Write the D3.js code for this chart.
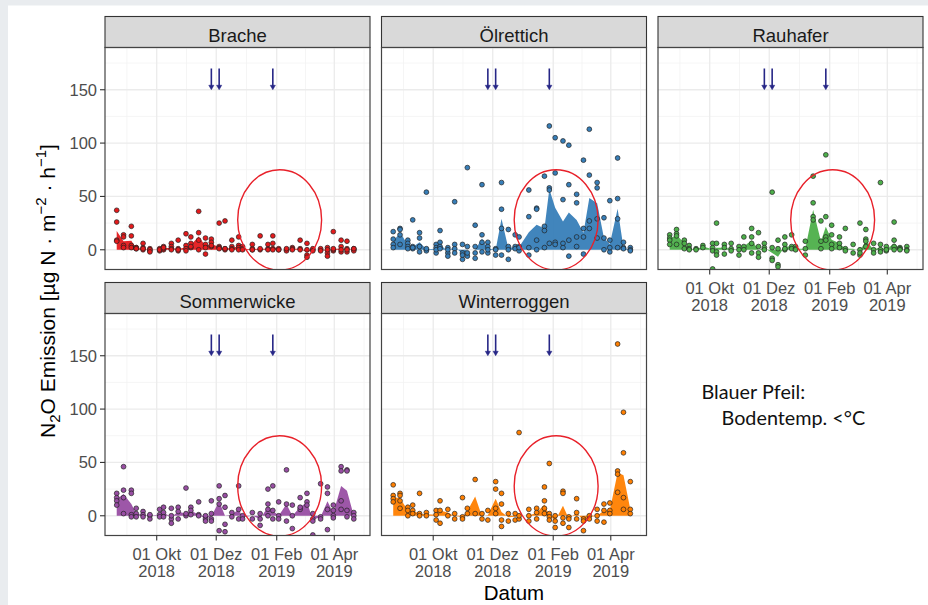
<!DOCTYPE html>
<html>
<head>
<meta charset="utf-8">
<script src="https://cdn.jsdelivr.net/npm/d3@7"></script>
<style>
  html, body { margin: 0; padding: 0; background: #fff; }
  svg { display: block; font-family: Arial, "Liberation Sans", Helvetica, sans-serif; }
  .note { font-family: Lato, "Open Sans", sans-serif; }
</style>
</head>
<body>
<div id="chart"></div>
<script>
// Messtermine (gemeinsam für alle Varianten)
const dates = [
  "2018-08-21","2018-08-28","2018-09-05","2018-09-10","2018-09-17","2018-09-24",
  "2018-10-04","2018-10-08","2018-10-16","2018-10-23","2018-10-31","2018-11-05",
  "2018-11-13","2018-11-20","2018-11-26","2018-12-04","2018-12-10","2018-12-17",
  "2018-12-24","2018-12-28","2019-01-07","2019-01-15","2019-01-23","2019-01-28",
  "2019-02-03","2019-02-11","2019-02-17","2019-02-25","2019-03-04","2019-03-10",
  "2019-03-18","2019-03-25","2019-03-31","2019-04-08","2019-04-14","2019-04-21"
];

// Einzelwerte je Termin (Wiederholungen), µg N m-2 h-1
const brache = [
  [37,26,9,8],[14,12,4,2],[22,13,4,2],[2,1,2,1],[6,2,0,1],[1,-1,0,-2],
  [0,1,-1,0],[3,0,1,2],[6,3,1,0],[9,-1,1,0],[15,4,1,-1],[12,6,2,3],
  [36,16,9,0],[11,5,-4,2],[10,7,3,4],[25,3,2,1],[27,1,0,1],[9,3,1,0],
  [12,4,2,0],[3,1,0],[5,0,1,0],[13,0,1],[5,1,0],[13,6,1,0],
  [0,1,0],[0,-1,1],[2,1,0],[9,1,0],[6,-5,-7,0],[0,1,-1],
  [0,1,-1],[2,-3,-6,0],[17,-1,0,1],[9,3,-2,0],[8,1,-2,0],[1,0,-1,1]
];
const oelrettich = [
  [17,10,5,2],[20,19,14,5],[9,6,3,1],[28,3,1,2],[16,11,3,-2],[54,0,-1,1],
  [5,2,-3,0],[18,7,3,1],[2,-3,-6,0],[45,5,1,-3],[5,-3,-9,-5],[77,3,-6,-3],
  [23,3,-3,-8],[61,14,7,-2],[7,3,-3,0],[1,-5,0],[63,38,20,-5],[19,3,0,-9],
  [14,3,1],[12,3,-1,2],[56,31,2,-5],[39,38,9,0],[69,22,18,2],[116,58,56,6],
  [105,72,7,5],[102,47,6,2],[98,61,9,-6],[52,44,12,3],[84,20,12,-4],[113,70,27,20],
  [63,58,29,11],[30,11,0],[46,9,-2,2],[86,48,29,2],[7,2,1],[2,0,-1]
];
const rauhafer = [
  [14,11,9,5],[19,15,13,5],[9,6,1],[4,1,0],[1,0],[4,2],
  [6,2,-1,-18],[25,6,-2,-5],[5,2,-4],[6,1,-1],[3,0,-5],[12,3,0],
  [20,12,6,-3],[16,3,-3,-7],[6,2,0],[54,2,-8,-10],[9,1,-14,-16],[12,5,0,1],
  [14,3,1],[3,1,0],[8,1,-5],[69,44,31,28],[27,8,1],[89,31,12,9],
  [23,14,5,1],[12,6,2],[20,1,-1],[5,-3],[25,0,-5,-3],[19,10,8,3],
  [6,0,-3],[63,5,0,-2],[3,-1,0],[26,9,3,0],[2,1,0],[3,0,-1]
];
const sommerwicke = [
  [21,17,14,10],[46,24,17,2],[24,21,1,-1],[7,2,-1],[4,1,-1],[0,-3,1],
  [6,1,-1],[8,3,-1],[7,-3,-7,0],[8,4,-3],[26,0,2],[8,5,1],
  [13,1,0],[-3,-5,0],[14,-3,-5,2],[28,16,11,-14],[19,8,-8,-15],[3,-1],
  [28,6,-3],[0,-3],[3,-3],[-3,-9,2],[25,11,6,0],[28,5,-3],
  [13,0,-3],[43,11,-5],[10,0,-12],[17,6,8],[21,13,10],[-3,-18,2,-5],
  [30,-1,-3],[27,21,6,-13],[10,5,0,-2],[46,42,14,6],[43,42,5,-1],[3,0,-3]
];
const winterroggen = [
  [29,19,16,13],[21,19,14,7],[8,5,0],[10,5,2],[21,2,0],[3,0],
  [5,1,-4],[14,5,-7],[6,0],[2,-3],[17,-1,-3],[7,2],
  [34,2],[2,-3],[5,-4],[32,25,7,2],[21,11,-4,-10],[2,-5],
  [2,-4],[78,-3,0],[6,0,-5],[7,3,-3],[27,14,7,2],[49,2,-1,-4],
  [0,-5,-11],[23,21,-7,-2],[-1,-3,-11],[16,3,-3],[-3,-14,-5],[0,-3],
  [6,0,-5],[11,5,-6],[12,5,2],[161,42,39,22],[97,59,17,6],[32,6,2]
];

const seriesNames  = ["Brache", "Ölrettich", "Rauhafer", "Sommerwicke", "Winterroggen"];
const seriesValues = [brache, oelrettich, rauhafer, sommerwicke, winterroggen];
const seriesColors = ["#e41a1c", "#377eb8", "#4daf4a", "#984ea3", "#ff7f00"];

const yTicks = [0, 50, 100, 150];
const yMinorTicks = [25, 75, 125, 175];
const xTickDates = ["2018-10-01", "2018-12-01", "2019-02-01", "2019-04-01"];
const xTickLabels = [["01 Okt", "2018"], ["01 Dez", "2018"], ["01 Feb", "2019"], ["01 Apr", "2019"]];
const xBreakEdges = ["2018-08-01", "2019-06-01"];

// Bodentemperatur-Pfeile und markierter Zeitraum
const frostDates = ["2018-11-26", "2018-12-04", "2019-01-28"];
const arrowFrom = 170, arrowTo = 150;
const circleCenter = "2019-02-04", circleValue = 28, circleDays = 43, circleSpan = 47;

(function () {
  "use strict";

  const W = 928, H = 605;
  const PW = 265, PH = 222, STRIP = 31;
  const colX = [105, 381.5, 658];
  const rowY = [47.5, 313.5];

  const parse = d3.timeParse("%Y-%m-%d");
  const day = 864e5;

  const x = d3.scaleTime()
    .domain([parse("2018-08-09"), new Date(+parse("2019-05-07") + 0.6 * day)])
    .range([0, PW]);
  const y = d3.scaleLinear().domain([-18.5, 189.6]).range([PH, 0]);

  const majorX = xTickDates.map(parse);
  const extX = [parse(xBreakEdges[0]), ...majorX, parse(xBreakEdges[1])];
  const minorX = d3.pairs(extX).map(([a, b]) => new Date((+a + +b) / 2));

  const svg = d3.select("#chart").append("svg")
    .attr("width", W).attr("height", H);

  // Hintergrundrahmen (Screenshot-Rand)
  svg.append("rect").attr("width", W).attr("height", H).attr("fill", "#e9ecef");
  svg.append("rect").attr("x", 8).attr("y", 5.5).attr("width", W - 8).attr("height", H - 5.5)
    .attr("fill", "#fff");

  const defs = svg.append("defs");

  const panels = seriesNames.map((name, i) => ({
    name,
    values: seriesValues[i],
    color: seriesColors[i],
    col: i % 3,
    row: Math.floor(i / 3),
    xAxis: i >= 2,
    yAxis: i % 3 === 0
  }));

  panels.forEach((p, i) => {
    const g = svg.append("g")
      .attr("transform", `translate(${colX[p.col]},${rowY[p.row]})`);

    defs.append("clipPath").attr("id", "clip" + i)
      .append("rect").attr("width", PW).attr("height", PH);

    // Strip
    g.append("rect")
      .attr("x", 0).attr("y", -STRIP).attr("width", PW).attr("height", STRIP)
      .attr("fill", "#d9d9d9").attr("stroke", "#333").attr("stroke-width", 1.1);
    g.append("text")
      .attr("x", PW / 2).attr("y", -6)
      .attr("text-anchor", "middle")
      .attr("font-size", "18.5px")
      .attr("fill", "#1a1a1a")
      .text(p.name);

    // Gitter
    const grid = g.append("g");
    grid.selectAll("line.ymin").data(yMinorTicks).join("line")
      .attr("x1", 0).attr("x2", PW)
      .attr("y1", d => y(d)).attr("y2", d => y(d))
      .attr("stroke", "#f2f2f2").attr("stroke-width", 0.8);
    grid.selectAll("line.xmin").data(minorX).join("line")
      .attr("y1", 0).attr("y2", PH)
      .attr("x1", d => x(d)).attr("x2", d => x(d))
      .attr("stroke", "#f2f2f2").attr("stroke-width", 0.8);
    grid.selectAll("line.ymaj").data(yTicks).join("line")
      .attr("x1", 0).attr("x2", PW)
      .attr("y1", d => y(d)).attr("y2", d => y(d))
      .attr("stroke", "#ebebeb").attr("stroke-width", 1.3);
    grid.selectAll("line.xmaj").data(majorX).join("line")
      .attr("y1", 0).attr("y2", PH)
      .attr("x1", d => x(d)).attr("x2", d => x(d))
      .attr("stroke", "#ebebeb").attr("stroke-width", 1.3);

    const plot = g.append("g").attr("clip-path", `url(#clip${i})`);

    // Median je Termin als Fläche
    const med = dates.map((d, k) => ({ date: parse(d), v: d3.median(p.values[k]) }));
    const area = d3.area()
      .x(d => x(d.date))
      .y0(y(0))
      .y1(d => y(d.v));
    plot.append("path")
      .datum(med)
      .attr("d", area)
      .attr("fill", p.color)
      .attr("fill-opacity", 0.95);

    // Einzelwerte
    const pts = [];
    dates.forEach((d, k) => p.values[k].forEach(v => pts.push({ date: parse(d), v })));
    plot.append("g").selectAll("circle").data(pts).join("circle")
      .attr("cx", d => x(d.date))
      .attr("cy", d => y(d.v))
      .attr("r", 2.4)
      .attr("fill", p.color)
      .attr("stroke", "#222")
      .attr("stroke-width", 0.7);

    // Pfeile Bodentemperatur
    const arrows = plot.append("g").attr("fill", "#262686").attr("stroke", "#262686");
    frostDates.forEach(fd => {
      const ax = x(parse(fd));
      arrows.append("line")
        .attr("x1", ax).attr("x2", ax)
        .attr("y1", y(arrowFrom)).attr("y2", y(arrowTo) - 3)
        .attr("stroke-width", 1.6);
      arrows.append("path")
        .attr("d", `M${ax - 2.6},${y(arrowTo) - 4.5}L${ax + 2.6},${y(arrowTo) - 4.5}L${ax},${y(arrowTo)}Z`)
        .attr("stroke-width", 0.5);
    });

    // Markierung
    const cx = x(parse(circleCenter));
    plot.append("ellipse")
      .attr("cx", cx)
      .attr("cy", y(circleValue))
      .attr("rx", x(new Date(+parse(circleCenter) + circleDays * day)) - cx)
      .attr("ry", y(circleValue - circleSpan) - y(circleValue))
      .attr("fill", "none")
      .attr("stroke", "#e8212a")
      .attr("stroke-width", 1.4);

    // Rahmen
    g.append("rect")
      .attr("width", PW).attr("height", PH)
      .attr("fill", "none").attr("stroke", "#444").attr("stroke-width", 1.2);

    // Achsen
    if (p.yAxis) {
      const ya = g.append("g");
      ya.selectAll("line").data(yTicks).join("line")
        .attr("x1", -5).attr("x2", 0)
        .attr("y1", d => y(d)).attr("y2", d => y(d))
        .attr("stroke", "#333").attr("stroke-width", 1.1);
      ya.selectAll("text").data(yTicks).join("text")
        .attr("x", -8).attr("y", d => y(d) + 6)
        .attr("text-anchor", "end")
        .attr("font-size", "16.5px")
        .attr("fill", "#4d4d4d")
        .text(d => d);
    }
    if (p.xAxis) {
      const xa = g.append("g").attr("transform", `translate(0,${PH})`);
      xa.selectAll("line").data(majorX).join("line")
        .attr("x1", d => x(d)).attr("x2", d => x(d))
        .attr("y1", 0).attr("y2", 5)
        .attr("stroke", "#333").attr("stroke-width", 1.1);
      const lab = xa.selectAll("text").data(majorX).join("text")
        .attr("text-anchor", "middle")
        .attr("font-size", "16.5px")
        .attr("fill", "#4d4d4d");
      lab.append("tspan")
        .attr("x", d => x(d)).attr("y", 24.3)
        .text((d, k) => xTickLabels[k][0]);
      lab.append("tspan")
        .attr("x", d => x(d)).attr("y", 41.7)
        .text((d, k) => xTickLabels[k][1]);
    }
  });

  // Achsentitel
  svg.append("text")
    .attr("x", (colX[0] + colX[2] + PW) / 2).attr("y", 600)
    .attr("text-anchor", "middle")
    .attr("font-size", "20.5px")
    .attr("fill", "#000")
    .text("Datum");

  const yt = svg.append("text")
    .attr("transform", "translate(55,291) rotate(-90)")
    .attr("text-anchor", "middle")
    .attr("font-size", "21px")
    .attr("fill", "#000");
  yt.append("tspan").text("N");
  yt.append("tspan").attr("font-size", "15px").attr("dy", 5).text("2");
  yt.append("tspan").attr("dy", -5).text("O Emission [µg N · m");
  yt.append("tspan").attr("font-size", "15px").attr("dy", -9).text("−2");
  yt.append("tspan").attr("dy", 9).text(" · h");
  yt.append("tspan").attr("font-size", "15px").attr("dy", -9).text("−1");
  yt.append("tspan").attr("dy", 9).text("]");

  // Hinweis
  const note = svg.append("g")
    .attr("class", "note")
    .attr("font-size", "19.8px")
    .attr("fill", "#111");
  note.append("text").attr("x", 701.5).attr("y", 398.5).text("Blauer Pfeil:");
  note.append("text").attr("x", 721.5).attr("y", 425).text("Bodentemp. <°C");
})();
</script>
</body>
</html>
